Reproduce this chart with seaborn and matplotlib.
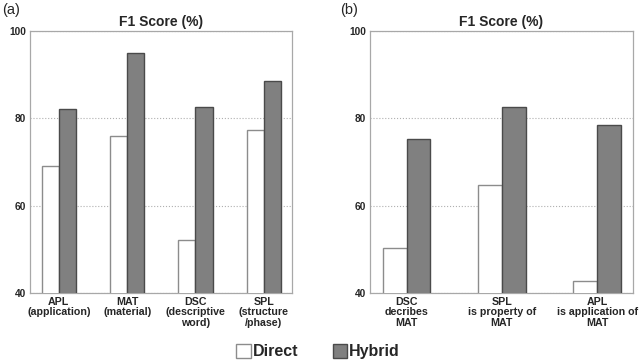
import pandas as pd
import matplotlib.pyplot as plt
import seaborn as sns
from matplotlib.patches import Patch

# Panel (a): entity F1 scores
ent_labels = ['APL\n(application)', 'MAT\n(material)', 'DSC\n(descriptive\nword)', 'SPL\n(structure\n/phase)']
ent_direct = [69.0, 76.0, 52.2, 77.4]
ent_hybrid = [82.1, 94.9, 82.5, 88.6]

# Panel (b): relation F1 scores
rel_labels = ['DSC\ndecribes\nMAT', 'SPL\nis property of\nMAT', 'APL\nis application of\nMAT']
rel_direct = [50.2, 64.7, 42.8]
rel_hybrid = [75.3, 82.7, 78.4]

methods = ['Direct', 'Hybrid']


def make_df(labels, direct, hybrid):
    return pd.DataFrame({
        'category': labels * 2,
        'score': direct + hybrid,
        'method': ['Direct'] * len(labels) + ['Hybrid'] * len(labels),
    })


sns.set_style('white')
plt.rcParams['font.family'] = ['Liberation Sans', 'DejaVu Sans']

fig = plt.figure(figsize=(6.4, 3.62), dpi=100)
ax1 = fig.add_axes([0.047, 0.191, 0.409, 0.723])
ax2 = fig.add_axes([0.578, 0.191, 0.411, 0.723])

palette = {'Direct': 'white', 'Hybrid': '#808080'}
edges = ['#8c8c8c', '#4a4a4a']

panels = [
    (ax1, make_df(ent_labels, ent_direct, ent_hybrid), (-0.42, 3.41)),
    (ax2, make_df(rel_labels, rel_direct, rel_hybrid), (-0.385, 2.375)),
]

for ax, df, xlim in panels:
    sns.barplot(data=df, x='category', y='score', hue='method', hue_order=methods,
                palette=palette, width=0.5, ax=ax, legend=False, zorder=3)
    for cont, ec in zip(ax.containers, edges):
        for bar in cont:
            bar.set_edgecolor(ec)
            bar.set_linewidth(1.0)
    ax.set_ylim(40, 100)
    ax.set_xlim(*xlim)
    ax.set_yticks([40, 60, 80, 100])
    ax.yaxis.grid(True, linestyle=':', color='#b0b0b0', linewidth=0.8, zorder=0)
    ax.xaxis.grid(False)
    ax.set_xlabel('')
    ax.set_ylabel('')
    ax.set_title('F1 Score (%)', fontsize=10, fontweight='bold', pad=4)
    ax.tick_params(axis='x', length=0, labelsize=7.7, pad=3)
    ax.tick_params(axis='y', length=0, labelsize=7.3, pad=3)
    for lab in ax.get_xticklabels() + ax.get_yticklabels():
        lab.set_fontweight('bold')
    for lab in ax.get_xticklabels():
        lab.set_linespacing(1.05)
    for sp in ax.spines.values():
        sp.set_color('#a8a8a8')
        sp.set_linewidth(0.9)

fig.text(0.003, 0.972, '(a)', fontsize=10.5, va='center', ha='left')
fig.text(0.531, 0.972, '(b)', fontsize=10.5, va='center', ha='left')

handles = [Patch(facecolor=palette[m], edgecolor=ec, linewidth=1.0, label=m)
           for m, ec in zip(methods, edges)]
leg = fig.legend(handles=handles, loc='center', bbox_to_anchor=(0.497, 0.028), ncol=2,
                 frameon=False, prop={'weight': 'bold', 'size': 11.5},
                 handlelength=0.9, handleheight=0.9, handletextpad=0.1, columnspacing=2.2)

fig.savefig('out.png', dpi=100)
